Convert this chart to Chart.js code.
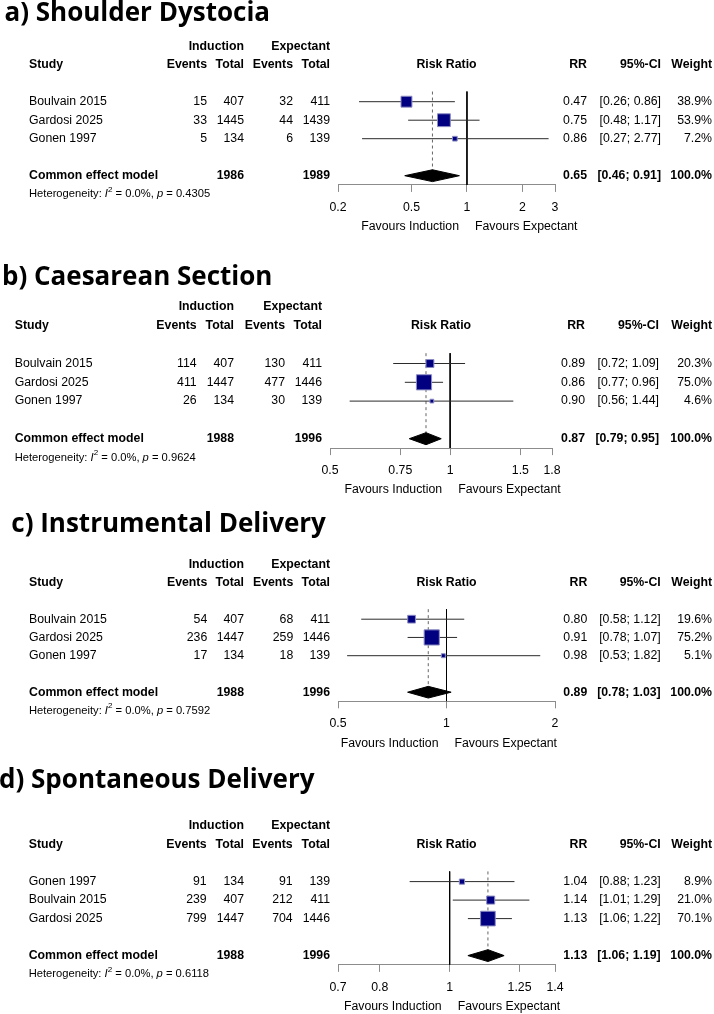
<!DOCTYPE html>
<html>
<head>
<meta charset="utf-8">
<script src="https://cdn.jsdelivr.net/npm/chart.js@4.4.1/dist/chart.umd.min.js"></script>
<style>
  body { margin: 0; background: #fff; width: 714px; height: 1014px; position: relative; overflow: hidden; }
  .panel { position: absolute; left: 0; width: 714px; }
  .panel h2 { position: absolute; margin: 0; font: 700 26px "Open Sans", sans-serif; line-height: 30px; white-space: nowrap; color: #000; z-index: 2; }
  .panel canvas { position: absolute; left: 0; top: 0; }
</style>
</head>
<body>
<div class="panel" id="pa"><h2>a) Shoulder Dystocia</h2><canvas id="chartA" width="714" height="250"></canvas></div>
<div class="panel" id="pb"><h2>b) Caesarean Section</h2><canvas id="chartB" width="714" height="250"></canvas></div>
<div class="panel" id="pc"><h2>c) Instrumental Delivery</h2><canvas id="chartC" width="714" height="255"></canvas></div>
<div class="panel" id="pd"><h2>d) Spontaneous Delivery</h2><canvas id="chartD" width="714" height="259"></canvas></div>
<script>
// a) Shoulder Dystocia
const studiesA = ["Boulvain 2015", "Gardosi 2025", "Gonen 1997"];
const indEventsA = [15, 33, 5];
const indTotalA = [407, 1445, 134];
const expEventsA = [32, 44, 6];
const expTotalA = [411, 1439, 139];
const rrA = [0.47, 0.75, 0.86];
const ciLowA = [0.26, 0.48, 0.27];
const ciHighA = [0.86, 1.17, 2.77];
const weightA = [38.9, 53.9, 7.2];
const pooledA = [0.65, 0.46, 0.91];
const totalsA = [1986, 1989];
const hetA = ["0.0%", "0.4305"];
const ticksA = [0.2, 0.5, 1, 2, 3];

// b) Caesarean Section
const studiesB = ["Boulvain 2015", "Gardosi 2025", "Gonen 1997"];
const indEventsB = [114, 411, 26];
const indTotalB = [407, 1447, 134];
const expEventsB = [130, 477, 30];
const expTotalB = [411, 1446, 139];
const rrB = [0.89, 0.86, 0.90];
const ciLowB = [0.72, 0.77, 0.56];
const ciHighB = [1.09, 0.96, 1.44];
const weightB = [20.3, 75.0, 4.6];
const pooledB = [0.87, 0.79, 0.95];
const totalsB = [1988, 1996];
const hetB = ["0.0%", "0.9624"];
const ticksB = [0.5, 0.75, 1, 1.5, 1.8];

// c) Instrumental Delivery
const studiesC = ["Boulvain 2015", "Gardosi 2025", "Gonen 1997"];
const indEventsC = [54, 236, 17];
const indTotalC = [407, 1447, 134];
const expEventsC = [68, 259, 18];
const expTotalC = [411, 1446, 139];
const rrC = [0.80, 0.91, 0.98];
const ciLowC = [0.58, 0.78, 0.53];
const ciHighC = [1.12, 1.07, 1.82];
const weightC = [19.6, 75.2, 5.1];
const pooledC = [0.89, 0.78, 1.03];
const totalsC = [1988, 1996];
const hetC = ["0.0%", "0.7592"];
const ticksC = [0.5, 1, 2];

// d) Spontaneous Delivery
const studiesD = ["Gonen 1997", "Boulvain 2015", "Gardosi 2025"];
const indEventsD = [91, 239, 799];
const indTotalD = [134, 407, 1447];
const expEventsD = [91, 212, 704];
const expTotalD = [139, 411, 1446];
const rrD = [1.04, 1.14, 1.13];
const ciLowD = [0.88, 1.01, 1.06];
const ciHighD = [1.23, 1.29, 1.22];
const weightD = [8.9, 21.0, 70.1];
const pooledD = [1.13, 1.06, 1.19];
const totalsD = [1988, 1996];
const hetD = ["0.0%", "0.6118"];
const ticksD = [0.7, 0.8, 1, 1.25, 1.4];

const FONT = '"Liberation Sans", Arial, Helvetica, sans-serif';
const FS = 12.3;   // table text
const HS = 11.2;   // heterogeneity line
const AXIS_H = 40;

const panels = [
  { canvas: "chartA", div: "pa", top: 0, h: 250, titleLeft: 4.5, titleBase: 20.7, rowH: 18.5, row2: 101.7, plotL: 338, plotR: 555,
    cols: [29, 207, 244, 293, 330, 587, 661, 712],
    studies: studiesA, indEv: indEventsA, indTot: indTotalA, expEv: expEventsA, expTot: expTotalA,
    rr: rrA, lo: ciLowA, hi: ciHighA, w: weightA, pooled: pooledA, totals: totalsA, het: hetA, ticks: ticksA },
  { canvas: "chartB", div: "pb", top: 250, h: 250, titleLeft: 2, titleBase: 35, rowH: 18.8, row2: 113.5, plotL: 330, plotR: 552,
    cols: [14.7, 196.7, 234, 285, 322, 585, 659, 712],
    studies: studiesB, indEv: indEventsB, indTot: indTotalB, expEv: expEventsB, expTot: expTotalB,
    rr: rrB, lo: ciLowB, hi: ciHighB, w: weightB, pooled: pooledB, totals: totalsB, het: hetB, ticks: ticksB },
  { canvas: "chartC", div: "pc", top: 500, h: 255, titleLeft: 11.3, titleBase: 32.5, rowH: 18.25, row2: 119.2, plotL: 338, plotR: 555,
    cols: [29, 207.3, 244, 293.3, 330, 587.3, 660.7, 712],
    studies: studiesC, indEv: indEventsC, indTot: indTotalC, expEv: expEventsC, expTot: expTotalC,
    rr: rrC, lo: ciLowC, hi: ciHighC, w: weightC, pooled: pooledC, totals: totalsC, het: hetC, ticks: ticksC },
  { canvas: "chartD", div: "pd", top: 755, h: 259, titleLeft: -1, titleBase: 33.3, rowH: 18.5, row2: 126.6, plotL: 338, plotR: 555,
    cols: [28.7, 206.7, 244, 292.7, 330, 587.3, 660.7, 712],
    studies: studiesD, indEv: indEventsD, indTot: indTotalD, expEv: expEventsD, expTot: expTotalD,
    rr: rrD, lo: ciLowD, hi: ciHighD, w: weightD, pooled: pooledD, totals: totalsD, het: hetD, ticks: ticksD }
];

function tablePlugin(p) {
  return {
    id: "table",
    afterDraw(chart) {
      const ctx = chart.ctx;
      const ys = chart.scales.y;
      const xs = chart.scales.x;
      const c = p.cols;
      ctx.save();
      ctx.fillStyle = "#000";
      ctx.textBaseline = "middle";
      const put = (t, px, r, align, bold) => {
        ctx.font = (bold ? "bold " : "") + FS + "px " + FONT;
        ctx.textAlign = align;
        ctx.fillText(t, px, ys.getPixelForValue(r));
      };
      const ci = (a, b) => "[" + a.toFixed(2) + "; " + b.toFixed(2) + "]";

      // header
      put("Induction", c[2], -1, "right", true);
      put("Expectant", c[4], -1, "right", true);
      put("Study", c[0], 0, "left", true);
      put("Events", c[1], 0, "right", true);
      put("Total", c[2], 0, "right", true);
      put("Events", c[3], 0, "right", true);
      put("Total", c[4], 0, "right", true);
      put("Risk Ratio", (p.plotL + p.plotR) / 2, 0, "center", true);
      put("RR", c[5], 0, "right", true);
      put("95%-CI", c[6], 0, "right", true);
      put("Weight", c[7], 0, "right", true);

      // studies
      p.studies.forEach((s, i) => {
        const r = i + 2;
        put(s, c[0], r, "left");
        put(String(p.indEv[i]), c[1], r, "right");
        put(String(p.indTot[i]), c[2], r, "right");
        put(String(p.expEv[i]), c[3], r, "right");
        put(String(p.expTot[i]), c[4], r, "right");
        put(p.rr[i].toFixed(2), c[5], r, "right");
        put(ci(p.lo[i], p.hi[i]), c[6], r, "right");
        put(p.w[i].toFixed(1) + "%", c[7], r, "right");
      });

      // pooled
      put("Common effect model", c[0], 6, "left", true);
      put(String(p.totals[0]), c[2], 6, "right", true);
      put(String(p.totals[1]), c[4], 6, "right", true);
      put(p.pooled[0].toFixed(2), c[5], 6, "right", true);
      put(ci(p.pooled[1], p.pooled[2]), c[6], 6, "right", true);
      put("100.0%", c[7], 6, "right", true);

      // heterogeneity
      let hx = c[0];
      const hy = ys.getPixelForValue(7);
      ctx.textAlign = "left";
      const seg = (t, style, size, dy) => {
        ctx.font = style + size + "px " + FONT;
        ctx.fillText(t, hx, hy + dy);
        hx += ctx.measureText(t).width;
      };
      seg("Heterogeneity: ", "", HS, 0);
      seg("I", "italic ", HS, 0);
      seg("2", "", HS * 0.72, -4.5);
      seg(" = " + p.het[0] + ", ", "", HS, 0);
      seg("p", "italic ", HS, 0);
      seg(" = " + p.het[1], "", HS, 0);

      // favours labels
      const x1 = xs.getPixelForValue(1);
      const fy = chart.chartArea.bottom + 42;
      ctx.font = FS + "px " + FONT;
      ctx.textAlign = "right";
      ctx.fillText("Favours Induction", x1 - 8, fy);
      ctx.textAlign = "left";
      ctx.fillText("Favours Expectant", x1 + 8, fy);
      ctx.restore();
    }
  };
}

panels.forEach(p => {
  const div = document.getElementById(p.div);
  div.style.top = p.top + "px";
  div.style.height = p.h + "px";
  const h2 = div.querySelector("h2");
  h2.style.left = p.titleLeft + "px";
  h2.style.top = (p.titleBase - 25.1) + "px";

  const padTop = p.row2 - 3.5 * p.rowH;
  const padBottom = p.h - (p.row2 + 4.5 * p.rowH) - AXIS_H;

  const datasets = [];
  // study boxes
  datasets.push({
    type: "scatter",
    data: p.rr.map((v, i) => ({ x: v, y: i + 2 })),
    pointStyle: "rect",
    pointRadius: p.w.map(w => 1.75 * Math.sqrt(w) / Math.SQRT2),
    backgroundColor: "#000080",
    borderColor: "#8c8cc4",
    borderWidth: 1,
    order: 0
  });
  // pooled diamond
  datasets.push({
    type: "line",
    data: [
      { x: p.pooled[1], y: 6 },
      { x: p.pooled[0], y: 6 - 0.32 },
      { x: p.pooled[2], y: 6 },
      { x: p.pooled[0], y: 6 + 0.32 },
      { x: p.pooled[1], y: 6 }
    ],
    borderColor: "#000",
    backgroundColor: "#000",
    borderWidth: 1,
    pointRadius: 0,
    tension: 0,
    fill: "shape",
    order: 1
  });
  // confidence intervals
  p.rr.forEach((v, i) => {
    datasets.push({
      type: "line",
      data: [{ x: p.lo[i], y: i + 2 }, { x: p.hi[i], y: i + 2 }],
      borderColor: "#2b2b2b",
      borderWidth: 1,
      pointRadius: 0,
      order: 2
    });
  });
  // line of no effect
  datasets.push({
    type: "line",
    data: [{ x: 1, y: 1.45 }, { x: 1, y: 6.5 }],
    borderColor: "#000",
    borderWidth: 1,
    pointRadius: 0,
    order: 3
  });
  // pooled estimate (dashed)
  datasets.push({
    type: "line",
    data: [{ x: p.pooled[0], y: 1.45 }, { x: p.pooled[0], y: 6 }],
    borderColor: "#666",
    borderWidth: 1,
    borderDash: [3, 3],
    pointRadius: 0,
    order: 4
  });

  new Chart(document.getElementById(p.canvas).getContext("2d"), {
    type: "scatter",
    data: { datasets: datasets },
    options: {
      responsive: false,
      animation: false,
      events: [],
      layout: { padding: { left: p.plotL, right: 714 - p.plotR, top: padTop, bottom: padBottom } },
      plugins: { legend: { display: false }, tooltip: { enabled: false }, title: { display: false } },
      scales: {
        x: {
          type: "logarithmic",
          min: p.ticks[0],
          max: p.ticks[p.ticks.length - 1],
          afterBuildTicks: s => { s.ticks = p.ticks.map(v => ({ value: v })); },
          afterFit: s => { s.height = AXIS_H; },
          ticks: {
            callback: v => String(v),
            autoSkip: false,
            maxRotation: 0,
            color: "#000",
            padding: 8,
            font: { family: FONT, size: FS }
          },
          grid: { display: true, drawOnChartArea: false, drawTicks: true, tickLength: 7, color: "#8c8c8c" },
          border: { display: true, color: "#8c8c8c", width: 1 }
        },
        y: { type: "linear", reverse: true, min: -1.5, max: 6.5, display: false }
      }
    },
    plugins: [tablePlugin(p)]
  });
});
</script>
</body>
</html>
